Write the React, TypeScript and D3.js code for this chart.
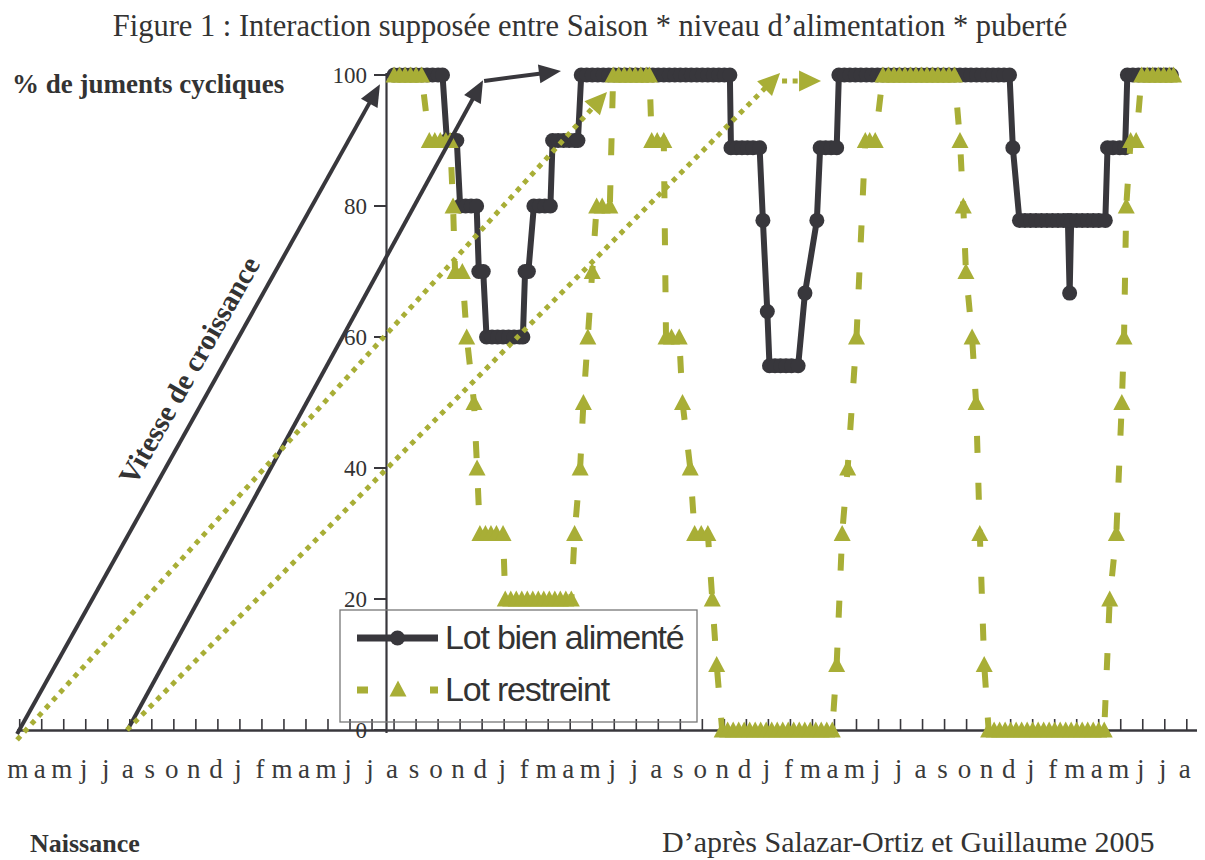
import React from "react";
import * as d3 from "d3";

// ---------- data ----------
const monthLabels = [
  "m","a","m","j","j","a","s","o","n","d","j","f",
  "m","a","m","j","j","a","s","o","n","d","j","f",
  "m","a","m","j","j","a","s","o","n","d","j","f",
  "m","a","m","j","j","a","s","o","n","d","j","f",
  "m","a","m","j","j","a",
];

const yTickValues = [0, 20, 40, 60, 80, 100];

// [month index from March of birth year, % cyclic mares]
const wellFed: [number, number][] = [
  [17.0,100],[17.25,100],[17.5,100],[17.75,100],[18.0,100],[18.25,100],[18.5,100],[18.75,100],[19.0,100],[19.2,100],
  [19.4,90],[19.6,90],[19.85,90],
  [20.0,80],[20.25,80],[20.5,80],[20.75,80],
  [20.85,70],[21.05,70],
  [21.2,60],[21.45,60],[21.7,60],[21.95,60],[22.2,60],[22.45,60],[22.7,60],[22.85,60],
  [22.95,70],[23.1,70],
  [23.35,80],[23.6,80],[23.85,80],[24.1,80],
  [24.2,90],[24.45,90],[24.7,90],[24.95,90],[25.2,90],[25.35,90],
  [25.5,100],[25.75,100],[26.0,100],[26.25,100],[26.5,100],[26.75,100],[27.0,100],[27.25,100],[27.5,100],[27.75,100],
  [28.0,100],[28.25,100],[28.5,100],[28.75,100],[29.0,100],[29.25,100],[29.5,100],[29.75,100],[30.0,100],[30.25,100],
  [30.5,100],[30.75,100],[31.0,100],[31.25,100],[31.5,100],[31.75,100],[32.0,100],[32.25,100],
  [32.3,88.9],[32.55,88.9],[32.8,88.9],[33.05,88.9],[33.3,88.9],[33.6,88.9],
  [33.75,77.8],
  [33.95,63.9],
  [34.05,55.6],[34.3,55.6],[34.55,55.6],[34.8,55.6],[35.05,55.6],[35.35,55.6],
  [35.66,66.7],
  [36.2,77.8],
  [36.35,88.9],[36.6,88.9],[36.85,88.9],[37.1,88.9],
  [37.2,100],[37.45,100],[37.7,100],[37.95,100],[38.2,100],[38.45,100],[38.7,100],[38.95,100],[39.2,100],[39.45,100],
  [39.7,100],[39.95,100],[40.2,100],[40.45,100],[40.7,100],[40.95,100],[41.2,100],[41.45,100],[41.7,100],[41.95,100],
  [42.2,100],[42.45,100],[42.7,100],[42.95,100],[43.2,100],[43.45,100],[43.7,100],[43.95,100],[44.2,100],[44.45,100],
  [44.7,100],[44.95,100],
  [45.1,88.9],
  [45.4,77.8],[45.65,77.8],[45.9,77.8],[46.15,77.8],[46.4,77.8],[46.65,77.8],[46.9,77.8],[47.15,77.8],[47.4,77.8],[47.6,77.8],
  [47.68,66.7],
  [47.75,77.8],[48.0,77.8],[48.25,77.8],[48.5,77.8],[48.75,77.8],[49.0,77.8],[49.3,77.8],
  [49.4,88.9],[49.65,88.9],[49.95,88.9],[50.2,88.9],
  [50.3,100],[50.55,100],[50.8,100],[51.05,100],[51.3,100],[51.55,100],[51.8,100],[52.05,100],[52.3,100],
];

const restricted: [number, number][] = [
  [17.0,100],[17.25,100],[17.5,100],[17.75,100],[18.0,100],[18.25,100],
  [18.6,90],[18.85,90],[19.1,90],[19.35,90],[19.55,90],
  [19.68,80],
  [19.77,70],[20.1,70],
  [20.3,60],
  [20.63,50],
  [20.77,40],
  [20.9,30],[21.15,30],[21.4,30],[21.65,30],[21.95,30],
  [22.05,20],[22.3,20],[22.55,20],[22.8,20],[23.05,20],[23.3,20],[23.55,20],[23.8,20],[24.05,20],[24.3,20],
  [24.55,20],[24.8,20],[25.05,20],
  [25.2,30],
  [25.45,40],
  [25.6,50],
  [25.8,60],
  [26.0,70],
  [26.2,80],[26.45,80],[26.8,80],
  [26.95,100],[27.2,100],[27.45,100],[27.7,100],[27.95,100],[28.2,100],[28.45,100],[28.6,100],
  [28.7,90],[28.95,90],[29.25,90],
  [29.35,60],[29.6,60],[29.95,60],
  [30.1,50],
  [30.45,40],
  [30.65,30],[30.95,30],[31.25,30],
  [31.45,20],
  [31.65,10],
  [31.9,0],[32.15,0],[32.4,0],[32.65,0],[32.9,0],[33.15,0],[33.4,0],[33.65,0],[33.9,0],[34.15,0],
  [34.4,0],[34.65,0],[34.9,0],[35.15,0],[35.4,0],[35.65,0],[35.9,0],[36.15,0],[36.4,0],[36.65,0],[36.9,0],
  [37.1,10],
  [37.35,30],
  [37.6,40],
  [38.0,60],
  [38.4,90],[38.6,90],[38.85,90],
  [39.2,100],[39.45,100],[39.7,100],[39.95,100],[40.2,100],[40.45,100],[40.7,100],[40.95,100],[41.2,100],[41.45,100],
  [41.7,100],[41.95,100],[42.2,100],[42.45,100],
  [42.7,90],
  [42.85,80],
  [42.97,70],
  [43.25,60],
  [43.43,50],
  [43.6,30],
  [43.8,10],
  [44.0,0],[44.25,0],[44.5,0],[44.75,0],[45.0,0],[45.25,0],[45.5,0],[45.75,0],[46.0,0],[46.25,0],
  [46.5,0],[46.75,0],[47.0,0],[47.25,0],[47.5,0],[47.75,0],[48.0,0],[48.25,0],[48.5,0],[48.75,0],
  [49.0,0],[49.25,0],
  [49.5,20],
  [49.8,30],
  [50.05,50],
  [50.15,60],
  [50.25,80],
  [50.45,90],[50.7,90],
  [50.95,100],[51.2,100],[51.45,100],[51.7,100],[51.95,100],[52.2,100],[52.4,100],
];

// growth-speed arrows, in data units [month, %]
const blackArrows: [number, number, number, number][] = [
  [-0.12, -0.6, 16.36, 98.6],
  [4.87, -0.15, 21.04, 99.2],
  [21.09, 99.1, 24.58, 100.6],
];
const greenArrows: [number, number, number, number][] = [
  [-0.12, -1.5, 26.67, 97.4],
  [4.87, 0, 34.53, 100.3],
  [34.62, 99.1, 36.39, 99.1],
];

// ---------- styles ----------
const DARK = "#38373c";
const GREEN = "#a8ae36";
const SERIF = "'Liberation Serif', 'Times New Roman', serif";
const SANS = "'Liberation Sans', Arial, sans-serif";

function arrowParts(x0: number, y0: number, x1: number, y1: number, len: number, wid: number) {
  const dx = x1 - x0, dy = y1 - y0;
  const L = Math.hypot(dx, dy);
  const ux = dx / L, uy = dy / L;
  const bx = x1 - ux * len, by = y1 - uy * len;
  const px = -uy, py = ux;
  return {
    end: [bx + ux * 2, by + uy * 2],
    head: `${x1},${y1} ${bx + (px * wid) / 2},${by + (py * wid) / 2} ${bx - (px * wid) / 2},${by - (py * wid) / 2}`,
  };
}

export default function App() {
  const W = 1205, H = 860;
  const x = d3.scaleLinear().domain([0, 53]).range([19.7, 1186.8]);
  const y = d3.scaleLinear().domain([0, 100]).range([730, 75]);
  const line = d3.line<[number, number]>().x((d) => x(d[0])).y((d) => y(d[1]));
  const tri = "M0,-8.5L8.5,7.5L-8.5,7.5Z";
  const axisX = 386.5;

  return (
    <svg width={W} height={H} style={{ position: "absolute", left: 0, top: 0, background: "#fff" }}>
      <rect x={0} y={0} width={W} height={H} fill="#fff" />
      {/* title */}
      <text x={590} y={36} textAnchor="middle" fontFamily={SERIF} fontSize={30.5} fill="#333">
        Figure 1 : Interaction supposée entre Saison * niveau d’alimentation * puberté
      </text>
      <text x={12} y={93} fontFamily={SERIF} fontWeight="bold" fontSize={27} fill="#333">
        % de juments cycliques
      </text>

      {/* x axis */}
      <line x1={17} x2={1197} y1={730.5} y2={730.5} stroke={DARK} strokeWidth={2.5} />
      {monthLabels.map((_, i) => (
        <line key={"t" + i} x1={x(i)} x2={x(i)} y1={719} y2={730} stroke={DARK} strokeWidth={1.6} />
      ))}
      {monthLabels.map((m, i) => (
        <text key={"l" + i} x={x(i) - 2} y={778} textAnchor="middle" fontFamily={SERIF} fontSize={27} fill="#3a3a3a">
          {m}
        </text>
      ))}

      {/* y axis */}
      <line x1={axisX} x2={axisX} y1={73} y2={733} stroke={DARK} strokeWidth={2.2} />
      {yTickValues.map((v) => (
        <g key={"y" + v}>
          <line x1={374} x2={axisX} y1={y(v)} y2={y(v)} stroke={DARK} strokeWidth={2} />
          <text x={367} y={y(v) + 8} textAnchor="end" fontFamily={SERIF} fontSize={23} fill="#333">
            {v}
          </text>
        </g>
      ))}

      {/* series 1 : well fed */}
      <path d={line(wellFed) || ""} fill="none" stroke={DARK} strokeWidth={6} strokeLinejoin="round" />
      {wellFed.map((d, i) => (
        <circle key={"c" + i} cx={x(d[0])} cy={y(d[1])} r={7.5} fill={DARK} />
      ))}

      {/* series 2 : restricted */}
      <path d={line(restricted) || ""} fill="none" stroke={GREEN} strokeWidth={6} strokeDasharray="17 30" />
      {restricted.map((d, i) => (
        <path key={"g" + i} d={tri} transform={`translate(${x(d[0])},${y(d[1])})`} fill={GREEN} />
      ))}

      {/* growth arrows */}
      {blackArrows.map((a, i) => {
        const p = arrowParts(x(a[0]), y(a[1]), x(a[2]), y(a[3]), 22, 19);
        return (
          <g key={"ba" + i}>
            <line x1={x(a[0])} y1={y(a[1])} x2={p.end[0]} y2={p.end[1]} stroke={DARK} strokeWidth={4} />
            <polygon points={p.head} fill={DARK} />
          </g>
        );
      })}
      {greenArrows.map((a, i) => {
        const p = arrowParts(x(a[0]), y(a[1]), x(a[2]), y(a[3]), 22, 21);
        return (
          <g key={"ga" + i}>
            <line x1={x(a[0])} y1={y(a[1])} x2={p.end[0]} y2={p.end[1]} stroke={GREEN} strokeWidth={5} strokeDasharray="5 5.6" />
            <polygon points={p.head} fill={GREEN} />
          </g>
        );
      })}

      <text
        transform="translate(192,372) rotate(-60.5)"
        textAnchor="middle"
        dominantBaseline="middle"
        fontFamily={SERIF}
        fontWeight="bold"
        fontSize={29}
        fill="#333"
      >
        Vitesse de croissance
      </text>

      {/* legend */}
      <rect x={340} y={610} width={357} height={112} fill="none" stroke="#777" strokeWidth={1.3} />
      <line x1={357} x2={438} y1={638} y2={638} stroke={DARK} strokeWidth={7} />
      <circle cx={397.5} cy={638} r={7.5} fill={DARK} />
      <text x={445} y={649} fontFamily={SANS} fontSize={34} letterSpacing={-1.2} fill="#333">
        Lot bien alimenté
      </text>
      <line x1={357} x2={438} y1={690} y2={690} stroke={GREEN} strokeWidth={7} strokeDasharray="11 62" />
      <path d={tri} transform="translate(398,689)" fill={GREEN} />
      <text x={445} y={701} fontFamily={SANS} fontSize={34} letterSpacing={-1.2} fill="#333">
        Lot restreint
      </text>

      {/* footer */}
      <text x={30} y={852} fontFamily={SERIF} fontWeight="bold" fontSize={26} fill="#333">
        Naissance
      </text>
      <text x={662} y={852} fontFamily={SERIF} fontSize={30} fill="#333">
        D’après Salazar-Ortiz et Guillaume 2005
      </text>
    </svg>
  );
}
